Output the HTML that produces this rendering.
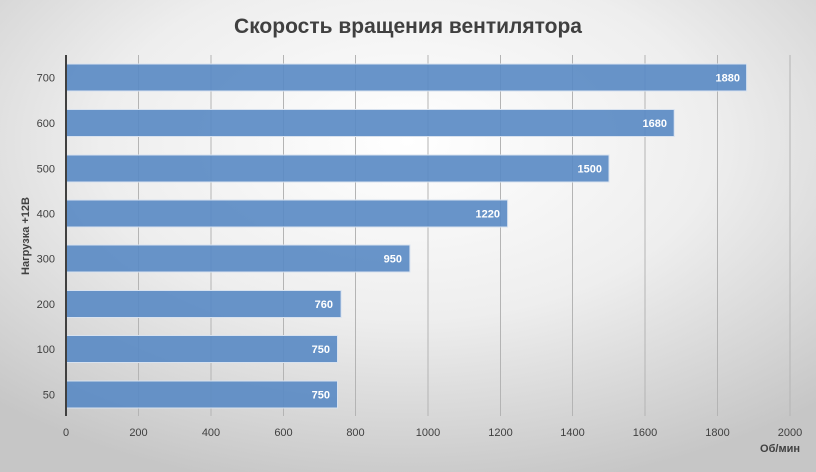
<!DOCTYPE html>
<html><head><meta charset="utf-8"><style>
html,body{margin:0;padding:0;}
body{width:816px;height:472px;overflow:hidden;}
svg{display:block;}
</style></head><body>
<svg width="816" height="472" xmlns="http://www.w3.org/2000/svg" font-family="'Liberation Sans', sans-serif">
<defs>
<radialGradient id="bg" cx="50%" cy="30%" r="75%">
<stop offset="0" stop-color="#ffffff"/>
<stop offset="0.5" stop-color="#eeeeee"/>
<stop offset="1" stop-color="#c6c6c6"/>
</radialGradient>
</defs>
<rect width="816" height="472" fill="url(#bg)"/>
<g stroke="#b4b4b4" stroke-width="1">
<line x1="138.5" y1="55" x2="138.5" y2="416"/>
<line x1="211" y1="55" x2="211" y2="416"/>
<line x1="283.5" y1="55" x2="283.5" y2="416"/>
<line x1="355.5" y1="55" x2="355.5" y2="416"/>
<line x1="428" y1="55" x2="428" y2="416"/>
<line x1="500.5" y1="55" x2="500.5" y2="416"/>
<line x1="572.5" y1="55" x2="572.5" y2="416"/>
<line x1="645" y1="55" x2="645" y2="416"/>
<line x1="717.5" y1="55" x2="717.5" y2="416"/>
<line x1="790" y1="55" x2="790" y2="416"/>
</g>
<g fill="#5b8bc4" fill-opacity="0.92" stroke="#d8e2ef" stroke-width="1">
<rect x="66" y="64" width="680.6" height="27"/>
<rect x="66" y="109.5" width="608.2" height="27"/>
<rect x="66" y="155" width="543" height="27"/>
<rect x="66" y="200" width="441.6" height="27"/>
<rect x="66" y="245" width="343.9" height="27"/>
<rect x="66" y="290.5" width="275.1" height="27"/>
<rect x="66" y="335.5" width="271.5" height="27"/>
<rect x="66" y="381" width="271.5" height="27"/>
</g>
<g fill="#ffffff" font-size="11" font-weight="bold" text-anchor="end">
<text x="740" y="81.5">1880</text>
<text x="667" y="127">1680</text>
<text x="602" y="172.5">1500</text>
<text x="500" y="217.5">1220</text>
<text x="402" y="262.5">950</text>
<text x="333" y="308">760</text>
<text x="330" y="353">750</text>
<text x="330" y="398.5">750</text>
</g>
<line x1="66" y1="55" x2="66" y2="416" stroke="#404040" stroke-width="2"/>
<g fill="#404040" font-size="11" text-anchor="end">
<text x="55" y="81.5">700</text>
<text x="55" y="127">600</text>
<text x="55" y="172.5">500</text>
<text x="55" y="217.5">400</text>
<text x="55" y="262.5">300</text>
<text x="55" y="308">200</text>
<text x="55" y="353">100</text>
<text x="55" y="398.5">50</text>
</g>
<g fill="#404040" font-size="11" text-anchor="middle">
<text x="66" y="436">0</text>
<text x="138.5" y="436">200</text>
<text x="211" y="436">400</text>
<text x="283.5" y="436">600</text>
<text x="355.5" y="436">800</text>
<text x="428" y="436">1000</text>
<text x="500.5" y="436">1200</text>
<text x="572.5" y="436">1400</text>
<text x="645" y="436">1600</text>
<text x="717.5" y="436">1800</text>
<text x="790" y="436">2000</text>
</g>
<text x="800" y="452" fill="#404040" font-size="11" font-weight="bold" text-anchor="end">Об/мин</text>
<text transform="translate(29,236) rotate(-90)" fill="#404040" font-size="11" font-weight="bold" text-anchor="middle">Нагрузка +12В</text>
<text x="408" y="33" fill="#404040" font-size="21" font-weight="bold" text-anchor="middle">Скорость вращения вентилятора</text>
</svg>
</body></html>
